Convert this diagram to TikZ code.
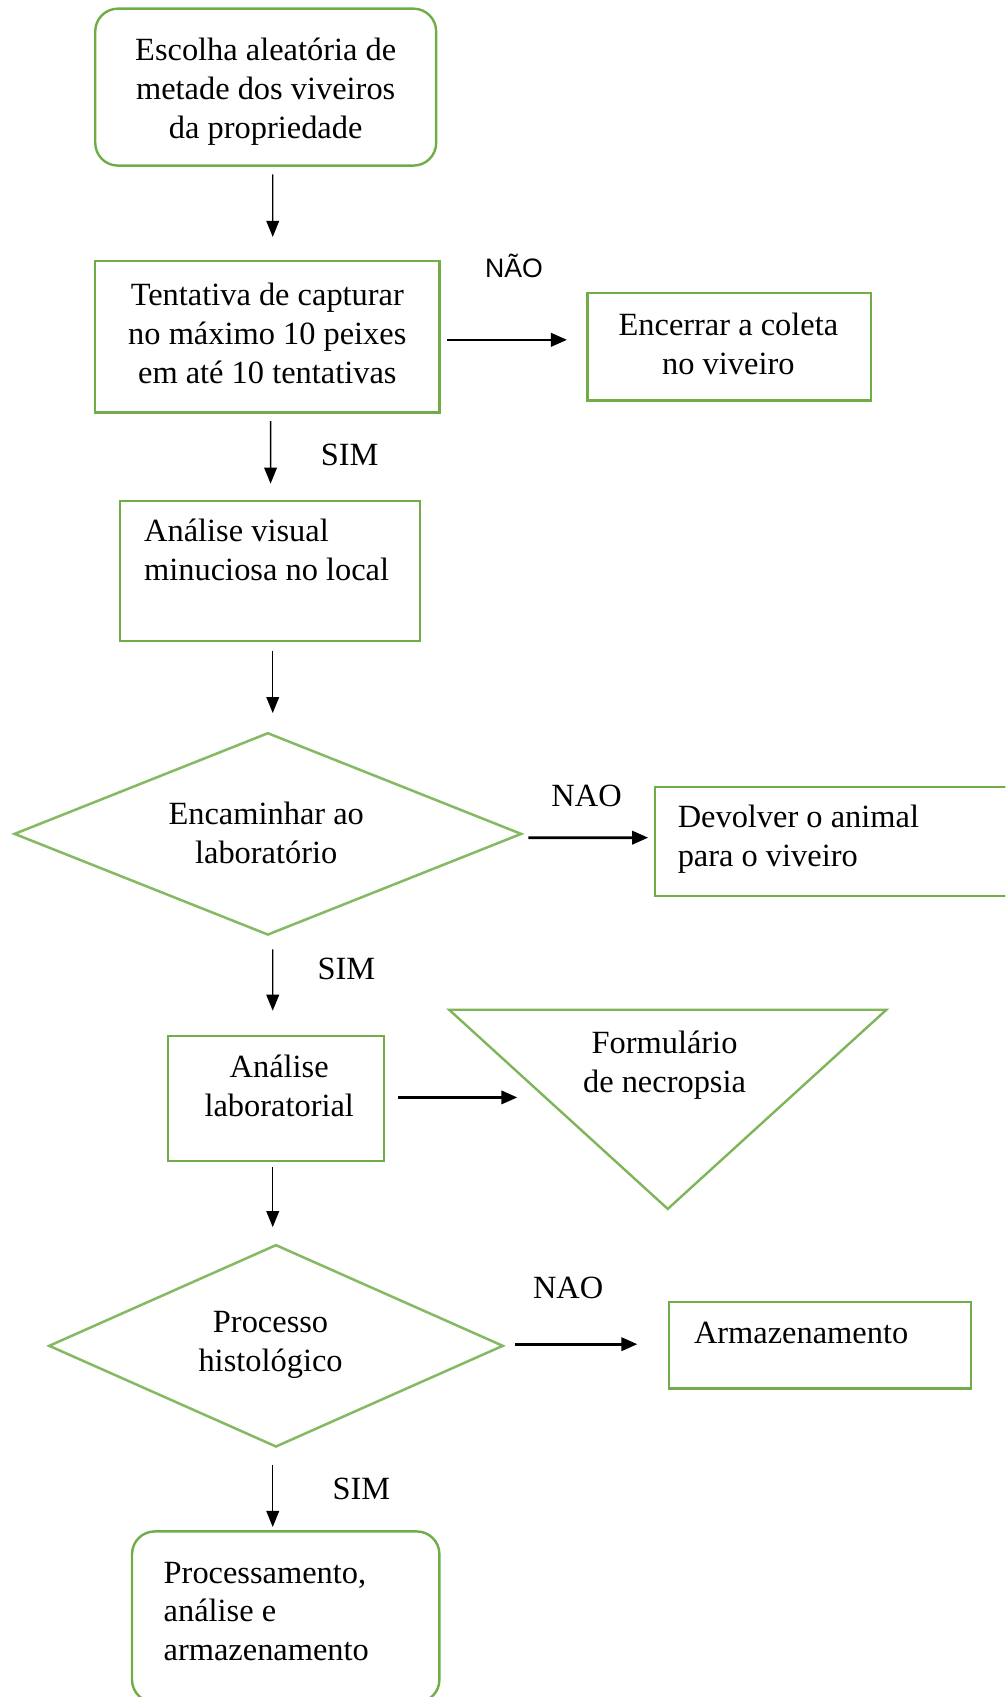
\documentclass[tikz,border=0pt]{standalone}
\usepackage{fontspec}
\setmainfont{Liberation Serif}
\newfontfamily\arialfont{Liberation Sans}
\usetikzlibrary{shapes.geometric,arrows.meta,calc}
\definecolor{boxgreen}{HTML}{70AD47}
\tikzset{
  wh/.style n args={2}{minimum width=#1*0.81135pt, minimum height=#2*0.81135pt},
  sq/.style={draw=boxgreen,line width=1.8pt,rectangle},
  rbox/.style={sq,rounded corners=17pt},
  dia/.style={draw=boxgreen!85,line width=1.9pt,diamond,aspect=2.5},
  tri/.style={draw=boxgreen!90,line width=1.8pt,line join=miter},
  txt/.style={align=center},
  ltxt/.style={align=left,anchor=west},
  sanslab/.style={font=\arialfont\fontsize{20}{24}\selectfont},
  arr/.style={-{Triangle[length=12pt,width=9.5pt]},line width=1.1pt},
  harr/.style={-{Triangle[length=12pt,width=10pt]},line width=2pt},
}
\begin{document}
\begin{tikzpicture}[x=0.81135pt,y=-0.81135pt,
  every node/.style={font=\fontsize{24.3}{29.2}\selectfont, inner sep=0pt}]
\useasboundingbox (0,0) rectangle (929,1568);
\clip (0,0) rectangle (929,1568);

% boxes
\node[rbox,wh={315}{145}] (b1) at (245.5,80.5) {};
\node[txt] (b1t) at (245.5,84.5) {Escolha aleatória de\\metade dos viveiros\\da propriedade};
\node[sq,wh={318}{140}] (b2) at (247,311) {};
\node[txt] (b2t) at (247,308) {Tentativa de capturar\\no máximo 10 peixes\\em até 10 tentativas};
\node[sq,wh={262}{99}] (b3) at (674,320.5) {};
\node[txt] (b3t) at (673,317.5) {Encerrar a coleta\\no viveiro};
\node[sq,wh={277}{129}] (b4) at (249.5,527.5) {};
\node[ltxt] (b4t) at (133,508.5) {Análise visual\\minuciosa no local};
\node[dia,wh={469}{187}] (d1) at (247.5,770.5) {};
\node[txt] (d1t) at (246,769.5) {Encaminhar ao\\laboratório};
\node[sq,wh={395}{101}] (b5) at (802.5,777.5) {};
\node[ltxt] (b5t) at (626,775) {Devolver o animal\\para o viveiro};
\node[sq,wh={200}{116}] (b6) at (255,1015) {};
\node[txt] (b6t) at (258,1003.5) {Análise\\laboratorial};
\draw[tri] (415,933) -- (819,933) -- (617,1117) -- cycle;
\node[txt] (t1) at (614,984) {Formulário\\de necropsia};
\coordinate (t1in) at (478,1014);
\node[dia,wh={420}{187}] (d2) at (255,1243.5) {};
\node[txt] (d2t) at (250,1242.5) {Processo\\histológico};
\node[sq,wh={279}{80}] (b7) at (757.5,1243) {};
\node[ltxt] (b7t) at (641,1232) {Armazenamento};
\node[rbox,wh={284}{158}] (b8) at (264,1494) {};
\node[ltxt] (b8t) at (151,1489) {Processamento,\\análise e\\armazenamento};

% labels
\node[sanslab] (nao1) at (475,246) {NÃO};
\node (sim1) at (323,420) {SIM};
\node (nao2) at (542,735) {NAO};
\node (sim2) at (320,895) {SIM};
\node (nao3) at (525,1190) {NAO};
\node (sim3) at (334,1376) {SIM};

% connectors
\draw[arr] ($(b1.south)+(6.5,7)$) -- ($(b2.north)+(5,-21)$);
\draw[harr] ($(b2.east)+(6,3)$) -- ($(b3.west)+(-18,-6.5)$);
\draw[arr] ($(b2.south)+(3,7)$) -- ($(b4.north)+(0.5,-15)$);
\draw[arr] ($(b4.south)+(2.5,8)$) -- ($(d1.north)+(4.5,-17)$);
\draw[harr] ($(d1.east)+(5,3.5)$) -- ($(b5.west)+(-5,-3.5)$);
\draw[arr] ($(d1.south)+(4.5,12)$) -- ($(b6.north)+(-3,-22)$);
\draw[harr] ($(b6.east)+(12,-1)$) -- (t1in);
\draw[arr] ($(b6.south)+(-3,4)$) -- ($(d2.north)+(-3,-15)$);
\draw[harr] ($(d2.east)+(10,-1.5)$) -- ($(b7.west)+(-28,-1)$);
\draw[arr] ($(d2.south)+(-3,15)$) -- ($(b8.north)+(-12,-3)$);
\end{tikzpicture}
\end{document}
